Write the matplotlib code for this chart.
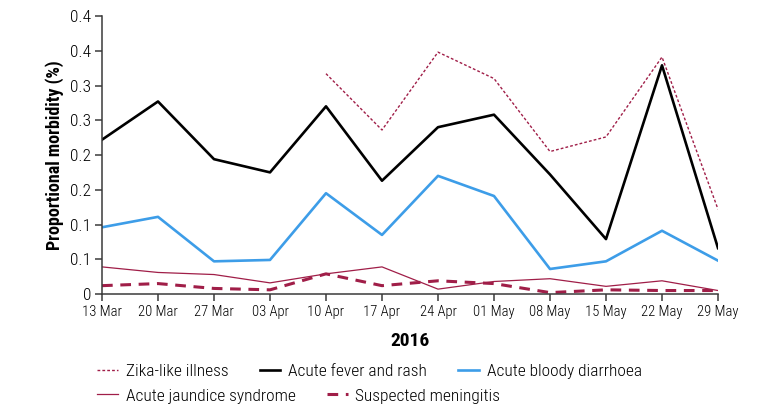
import matplotlib
import matplotlib.pyplot as plt
from matplotlib import font_manager

matplotlib.use("Agg")

# condensed font if one is installed, else the default
names = {f.name for f in font_manager.fontManager.ttflist}
candidates = ["Roboto Condensed", "Open Sans Condensed", "Asap Condensed",
              "PT Sans Narrow", "Archivo Narrow", "Liberation Sans Narrow"]
FONT = next((c for c in candidates if c in names), "DejaVu Sans")
plt.rcParams["font.family"] = [FONT, "DejaVu Sans"]

weeks = ["13 Mar", "20 Mar", "27 Mar", "03 Apr", "10 Apr", "17 Apr",
         "24 Apr", "01 May", "08 May", "15 May", "22 May", "29 May"]

zika = [None, None, None, None, 0.317, 0.236, 0.348, 0.310, 0.205, 0.226, 0.341, 0.122]
fever_rash = [0.222, 0.277, 0.194, 0.175, 0.270, 0.163, 0.240, 0.258, 0.172, 0.079, 0.329, 0.066]
bloody_diarrhoea = [0.096, 0.111, 0.047, 0.049, 0.145, 0.085, 0.170, 0.141, 0.036, 0.047, 0.091, 0.048]
jaundice = [0.039, 0.031, 0.028, 0.016, 0.029, 0.039, 0.007, 0.018, 0.022, 0.011, 0.019, 0.005]
meningitis = [0.012, 0.015, 0.008, 0.006, 0.029, 0.012, 0.019, 0.015, 0.002, 0.006, 0.005, 0.005]

y_ticks = [0, 0.05, 0.1, 0.15, 0.2, 0.25, 0.3, 0.35, 0.4]
y_labels = ["0", "0.1", "0.1", "0.2", "0.2", "0.3", "0.3", "0.4", "0.4"]

MAROON = "#a01e48"
BLUE = "#3d9de8"

fig = plt.figure(figsize=(7.71, 4.16), dpi=100)
ax = fig.add_axes([102 / 771, 1 - 294 / 416, 616 / 771, 278 / 416])

x = list(range(len(weeks)))
zx = [i for i, v in zip(x, zika) if v is not None]
zy = [v for v in zika if v is not None]

h_zika, = ax.plot(zx, zy, color=MAROON, lw=1.0, ls=(0, (2, 1.5)), label="Zika-like illness")
h_fever, = ax.plot(x, fever_rash, color="black", lw=1.9, label="Acute fever and rash")
h_blood, = ax.plot(x, bloody_diarrhoea, color=BLUE, lw=1.9, label="Acute bloody diarrhoea")
h_jaun, = ax.plot(x, jaundice, color=MAROON, lw=0.9, label="Acute jaundice syndrome")
h_men, = ax.plot(x, meningitis, color=MAROON, lw=2.2, ls=(0, (3.5, 2.5)), label="Suspected meningitis")

ax.set_xlim(0, len(weeks) - 1)
ax.set_ylim(0, 0.4)
ax.set_xticks(x)
ax.set_xticklabels(weeks, fontsize=10.5, fontweight="light")
ax.set_yticks(y_ticks)
ax.set_yticklabels(y_labels, fontsize=12.5, fontweight="light")

for side in ["top", "right"]:
    ax.spines[side].set_visible(False)
for side in ["left", "bottom"]:
    ax.spines[side].set_color("#3a3a3a")
    ax.spines[side].set_linewidth(1.1)
ax.tick_params(direction="out", length=5, width=1.1, color="#3a3a3a", pad=3)

ax.set_xlabel("2016", fontsize=14, fontweight="bold", labelpad=9)
ax.set_ylabel("Proportional morbidity (%)", fontsize=13, fontweight="bold", labelpad=4)

leg_kw = dict(frameon=False, prop={"size": 12.5, "weight": "light"},
              handlelength=1.2, handletextpad=0.45,
              columnspacing=1.8, borderaxespad=0, borderpad=0,
              bbox_transform=fig.transFigure, loc="center left")
leg1 = fig.legend(handles=[h_zika, h_fever, h_blood], ncol=3,
                  bbox_to_anchor=(97 / 771, 1 - 371 / 416), **leg_kw)
leg2 = fig.legend(handles=[h_jaun, h_men], ncol=2,
                  bbox_to_anchor=(97 / 771, 1 - 396 / 416), **leg_kw)

fig.savefig("out.png", dpi=100)
